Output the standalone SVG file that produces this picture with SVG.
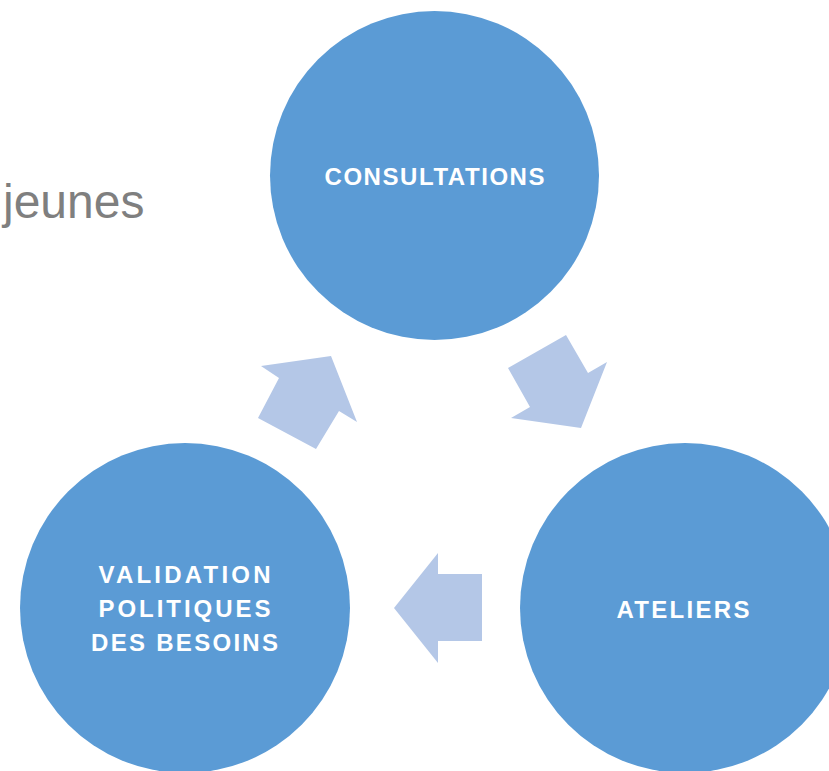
<svg xmlns="http://www.w3.org/2000/svg" width="829" height="771" viewBox="0 0 829 771">
<style>
.circ{fill:#5B9BD5}
.arr{fill:#B4C7E7}
.lbl{font-family:"Liberation Sans",Arial,sans-serif;font-weight:bold;font-size:24px;fill:#FFFFFF;text-anchor:middle}
.side{font-family:"Liberation Sans",Arial,sans-serif;font-size:48px;fill:#7F7F7F}
</style>
<rect width="829" height="771" fill="#FFFFFF"/>
<text class="side" x="3" y="218">jeunes</text>
<g id="connectors">
<polygon class="arr" points="331,356 357,422 339,411 316,449 258,418 279,378 261,366"/>
<polygon class="arr" points="581,428 511,418 530,407 508,368 566,335 588,373 607,362"/>
<polygon class="arr" points="394,608 438,553 438,574 482,574 482,641 438,641 438,663"/>
</g>
<g id="consultations">
<circle class="circ" cx="434.5" cy="175.5" r="164.5"/>
<text class="lbl" x="434.5" y="185" textLength="220" lengthAdjust="spacing">CONSULTATIONS</text>
</g>
<g id="ateliers">
<circle class="circ" cx="685" cy="608" r="165"/>
<text class="lbl" x="683" y="618" textLength="133" lengthAdjust="spacing">ATELIERS</text>
</g>
<g id="validation">
<circle class="circ" cx="185" cy="608" r="165"/>
<text class="lbl" x="184.5" y="583" textLength="172" lengthAdjust="spacing">VALIDATION</text>
<text class="lbl" x="184.5" y="617" textLength="172" lengthAdjust="spacing">POLITIQUES</text>
<text class="lbl" x="184.5" y="651" textLength="187" lengthAdjust="spacing">DES BESOINS</text>
</g>
</svg>
